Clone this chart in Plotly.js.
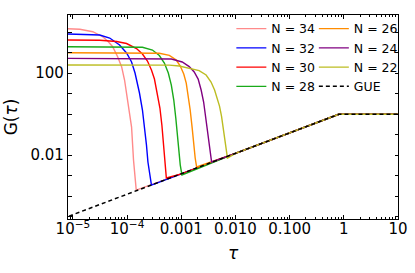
<!DOCTYPE html>
<html><head><meta charset="utf-8">
<script src="https://cdn.plot.ly/plotly-3.0.1.min.js"></script>
<style>html,body{margin:0;padding:0;background:#fff}#chart{width:415px;height:273px}</style>
</head><body><div id="chart"></div>
<script>
// Series labels and colours
const seriesNames = ['N = 34', 'N = 32', 'N = 30', 'N = 28', 'N = 26', 'N = 24', 'N = 22'];
const seriesColors = ['#ff8a8a', '#0000ff', '#ff0000', '#1aaa1a', '#ff8c00', '#800080', '#bcbd22'];

// Early-time decay of G(tau) for each N
const tau34 = [8.09e-6, 1.343e-5, 2.33e-5, 3.55e-5, 4.39e-5, 5.42e-5, 6.70e-5, 7.93e-5, 8.99e-5, 9.79e-5, 1.112e-4, 1.211e-4, 1.315e-4, 1.403e-4, 1.476e-4];
const g34   = [14490, 13550, 10350, 5900, 3640, 1919, 624, 203, 45.6, 10.6, 1.25, 0.232, 0.0057, 7.55e-4, 1.96e-4];

const tau32 = [8.09e-6, 2.05e-5, 3.13e-5, 4.78e-5, 7.28e-5, 9.79e-5, 1.211e-4, 1.403e-4, 1.694e-4, 1.923e-4, 2.094e-4, 2.28e-4, 2.427e-4, 2.642e-4, 2.818e-4];
const g32   = [7980, 7810, 7140, 5090, 2320, 946, 344, 100, 10.6, 1.57, 0.26, 0.0308, 0.00456, 8.45e-4, 3.44e-4];

const tau30 = [8.09e-6, 3.13e-5, 6.41e-5, 9.79e-5, 1.493e-4, 1.923e-4, 2.377e-4, 2.818e-4, 3.20e-4, 3.63e-4, 4.04e-4, 4.39e-4, 4.68e-4, 4.98e-4, 5.31e-4];
const g30   = [4074, 3981, 3443, 2748, 1567, 845, 385, 140, 50.9, 10.6, 1.96, 0.29, 0.0308, 0.00407, 7.55e-4];

const tau28 = [8.09e-6, 1.112e-4, 1.923e-4, 2.94e-4, 3.94e-4, 4.88e-4, 5.77e-4, 6.56e-4, 7.28e-4, 7.93e-4, 8.45e-4, 8.99e-4, 9.59e-4, 1.03e-3];
const g28   = [1919, 1897, 1795, 1324, 714, 308, 100, 26.0, 4.82, 0.638, 0.0946, 0.014, 0.00325, 0.00106];

const tau26 = [8.09e-6, 2.59e-4, 3.94e-4, 6.03e-4, 8.09e-4, 9.59e-4, 1.112e-3, 1.236e-3, 1.343e-3, 1.462e-3, 1.592e-3, 1.694e-3, 1.807e-3, 1.923e-3];
const g26   = [977, 966, 914, 729, 431, 219, 89.3, 32.5, 8.45, 1.57, 0.207, 0.0308, 0.00714, 0.0026];

const tau24 = [8.09e-6, 3.94e-4, 6.56e-4, 1.042e-3, 1.403e-3, 1.734e-3, 2.051e-3, 2.328e-3, 2.588e-3, 2.818e-3, 3.062e-3, 3.266e-3, 3.404e-3, 3.631e-3];
const g24   = [521, 515, 482, 344, 207, 112, 50.9, 14.8, 3.85, 0.714, 0.118, 0.0245, 0.01, 0.00456];

const tau22 = [8.09e-6, 6.03e-4, 9.18e-4, 1.403e-3, 2.138e-3, 2.877e-3, 3.548e-3, 4.121e-3, 4.581e-3, 5.082e-3, 5.534e-3, 5.902e-3, 6.281e-3, 6.70e-3, 7.129e-3];
const g22   = [245, 243, 219, 175, 132, 79.8, 36.4, 14.8, 6.03, 2.45, 0.798, 0.232, 0.0675, 0.0196, 0.00714];

// GUE ramp + plateau (shared late-time behaviour)
const gueTau = [8.5e-6, 1e-4, 1e-3, 1e-2, 0.1, 0.81, 10];
const gueG   = [1.05e-5, 1.2e-4, 1.2e-3, 1.2e-2, 0.12, 0.97, 0.97];

// Axis ticks
const xTickVals = [1e-5, 1e-4, 1e-3, 1e-2, 1e-1, 1, 10];
const xTickText = ['10<sup>\u22125</sup>', '10<sup>\u22124</sup>', '0.001', '0.010', '0.100', '1', '10'];
const yTickVals = [1e-5, 1e-4, 1e-3, 1e-2, 1e-1, 1, 10, 100, 1e3, 1e4];
const yTickText = ['', '', '', '0.01', '', '', '', '100', '', ''];

const decayTau = [tau34, tau32, tau30, tau28, tau26, tau24, tau22];
const decayG = [g34, g32, g30, g28, g26, g24, g22];

const minorX = [9e-6];
for (let e = -5; e <= 0; e++) for (let k = 2; k <= 9; k++) minorX.push(k * Math.pow(10, e));

const traces = seriesNames.map((name, i) => {
  const t = decayTau[i], g = decayG[i];
  const last = t[t.length - 1];
  const x = t.slice(), y = g.slice();
  gueTau.forEach((v, j) => { if (v > last) { x.push(v); y.push(gueG[j]); } });
  return {
    type: 'scatter', mode: 'lines', name: name, x: x, y: y,
    line: {color: seriesColors[i], width: 1.4},
    legend: i < 4 ? 'legend' : 'legend2'
  };
});
traces.push({
  type: 'scatter', mode: 'lines', name: 'GUE', x: gueTau, y: gueG,
  line: {color: '#000', width: 1.5, dash: '4px,3px'}, legend: 'legend2'
});

const font = {family: 'DejaVu Sans', color: '#000'};
const layout = {
  width: 415, height: 273,
  margin: {l: 68, r: 14, t: 15, b: 54},
  paper_bgcolor: '#fff', plot_bgcolor: '#fff',
  font: Object.assign({size: 15}, font),
  showlegend: true,
  xaxis: {
    type: 'log', range: [-5.09, 1.0], tickmode: 'array', tickvals: xTickVals, ticktext: xTickText,
    ticks: 'inside', ticklen: 4, tickwidth: 1, tickcolor: '#000', ticklabelstandoff: -4,
    minor: {tickmode: 'array', tickvals: minorX, ticks: 'inside', ticklen: 2, tickwidth: 1, tickcolor: '#000', showgrid: false},
    showline: true, linecolor: '#000', linewidth: 1.2, mirror: 'ticks',
    showgrid: false, zeroline: false, tickfont: {size: 15, color: '#000'},
    title: {text: '<i>\u03c4</i>', font: {size: 17, color: '#000'}, standoff: 9}
  },
  yaxis: {
    type: 'log', range: [-5.12, 4.83], tickmode: 'array', tickvals: yTickVals, ticktext: yTickText,
    ticks: 'inside', ticklen: 3.5, tickwidth: 1, tickcolor: '#000',
    showline: true, linecolor: '#000', linewidth: 1.2, mirror: 'ticks',
    showgrid: false, zeroline: false, tickfont: {size: 15, color: '#000'},
    title: {text: 'G(<i>\u03c4</i>)', font: {size: 17, color: '#000'}, standoff: 8}
  },
  legend: {x: 0.495, xanchor: 'left', y: 1.005, yanchor: 'top', bgcolor: 'rgba(0,0,0,0)',
           font: {size: 12.5, color: '#000'}, tracegroupgap: 0, itemwidth: 30},
  legend2: {x: 0.745, xanchor: 'left', y: 1.005, yanchor: 'top', bgcolor: 'rgba(0,0,0,0)',
           font: {size: 12.5, color: '#000'}, tracegroupgap: 0, itemwidth: 30}
};

Plotly.newPlot('chart', traces, layout, {displayModeBar: false, staticPlot: true});
</script>
</body></html>
